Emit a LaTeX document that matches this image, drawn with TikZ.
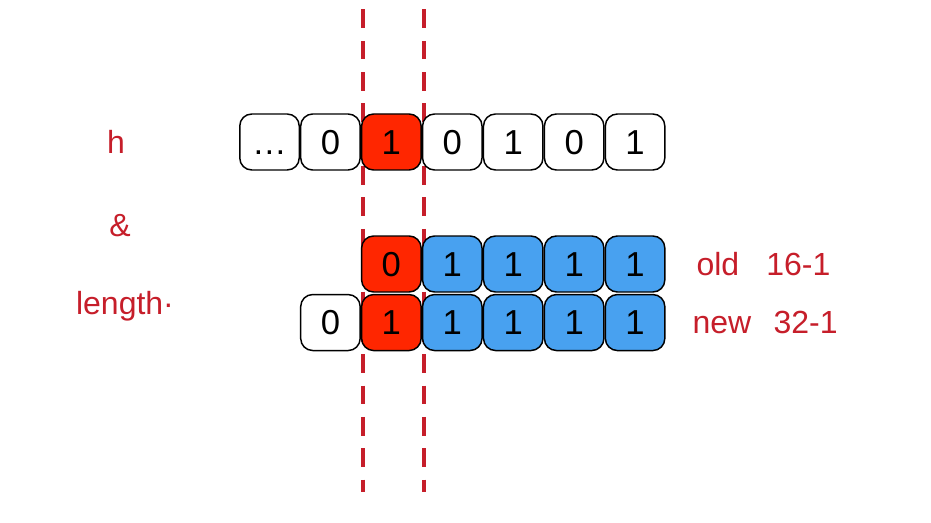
\documentclass[tikz,border=0pt]{standalone}
\usepackage{fontspec}
\setmainfont{Liberation Sans}
\usetikzlibrary{positioning}

\definecolor{bitred}{RGB}{255,38,0}
\definecolor{bitblue}{RGB}{72,161,240}
\definecolor{cutred}{RGB}{198,30,42}

\begin{document}
\begin{tikzpicture}[x=0.75pt,y=0.75pt,
	bit/.style={rectangle, rounded corners=9pt, draw=black, line width=1.1pt, minimum width=44.6pt, minimum height=42pt, inner sep=0pt, text height=18.6pt, text depth=0pt, fill=white, font=\fontsize{26}{30}\selectfont},
	hot/.style={bit, fill=bitred},
	ones/.style={bit, fill=bitblue},
	lbl/.style={text=cutred, inner sep=0pt, font=\fontsize{24}{28}\selectfont},
	cut/.style={draw=cutred, line width=2.5pt, dash pattern=on 14pt off 9.5pt}
	]
	\useasboundingbox (0,0) rectangle (931,522);

	% cut lines (behind the bits)
	\coordinate (cutLt) at (363,512.5);
	\coordinate (cutLb) at (363,30);
	\coordinate (cutRt) at (424,512.5);
	\coordinate (cutRb) at (424,30);
	\draw [cut] (cutLt) -- (cutLb);
	\draw [cut] (cutRt) -- (cutRb);

	% hash value h
	\node (hdots) [bit] at (269.5,380) {…};
		\node (h1) [bit, right=0pt of hdots] {0};
		\node (h2) [hot, right=0pt of h1] {1};
		\node (h3) [bit, right=0pt of h2] {0};
		\node (h4) [bit, right=0pt of h3] {1};
		\node (h5) [bit, right=0pt of h4] {0};
		\node (h6) [bit, right=0pt of h5] {1};

	% old length-1
	\node (o0) [hot, below=48.4pt of h2] {0};
		\node (o1) [ones, right=0pt of o0] {1};
		\node (o2) [ones, right=0pt of o1] {1};
		\node (o3) [ones, right=0pt of o2] {1};
		\node (o4) [ones, right=0pt of o3] {1};

	% new length-1
	\node (n0) [hot, below=0.8pt of o0] {1};
		\node (nlead) [bit, left=0pt of n0] {0};
		\node (n1) [ones, right=0pt of n0] {1};
		\node (n2) [ones, right=0pt of n1] {1};
		\node (n3) [ones, right=0pt of n2] {1};
		\node (n4) [ones, right=0pt of n3] {1};

	\node (oldlbl) [lbl, right=23pt of o4] {old\hspace{0.85em}16-1};
	\node (newlbl) [lbl, right=20pt of n4] {new\hspace{0.7em}32-1};

	\node (hlbl) [lbl] at (116,380) {h};
	\node (andlbl) [lbl] at (120,296.5) {\&};
	\node (lenlbl) [lbl] at (125,216) {length·};

\end{tikzpicture}
\end{document}
